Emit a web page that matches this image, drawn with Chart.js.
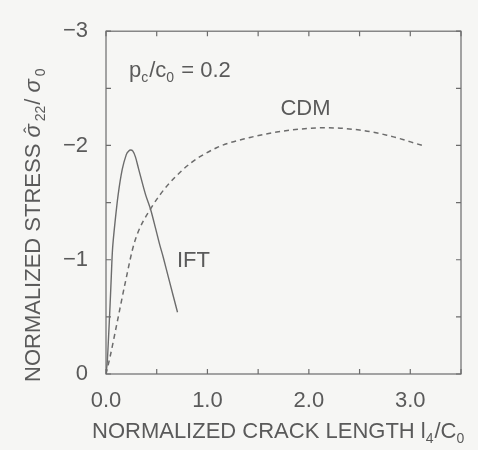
<!DOCTYPE html>
<html>
<head>
<script src="https://cdn.jsdelivr.net/npm/chart.js@4"></script>
<style>
body { margin: 0; background: #f6f6f4; }
</style>
</head>
<body>
<canvas id="chart" width="478" height="450"></canvas>
<script>
// IFT curve (solid)
const iftX = [0, 0.012, 0.025, 0.04, 0.052, 0.065, 0.088, 0.12, 0.16, 0.2, 0.222, 0.243, 0.265, 0.29, 0.32, 0.39, 0.44, 0.49, 0.53, 0.565, 0.62, 0.705];
const iftY = [0, -0.1, -0.32, -0.6, -0.85, -1.1, -1.32, -1.57, -1.79, -1.92, -1.95, -1.96, -1.95, -1.9, -1.8, -1.57, -1.44, -1.27, -1.13, -1.02, -0.83, -0.54];
// CDM curve (dashed)
const cdmX = [0, 0.04, 0.105, 0.19, 0.28, 0.45, 0.76, 1.09, 1.42, 1.74, 2.0, 2.17, 2.5, 2.77, 3.12];
const cdmY = [0, -0.15, -0.43, -0.8, -1.15, -1.46, -1.79, -1.98, -2.07, -2.125, -2.15, -2.155, -2.135, -2.09, -2.0];

const ink = '#5a5a5a';
const lineInk = '#6c6c6c';
const fam = '"Liberation Sans", Arial, sans-serif';

function rich(ctx, parts, x, y) {
    // parts: [text, kind]  kind: 0 normal, 1 subscript, 2 hatted sigma, 3 sigma
    parts.forEach(p => {
        if (p[1] === 1) {
            ctx.font = '14px ' + fam;
            ctx.fillText(p[0], x, y + 5);
            x += ctx.measureText(p[0]).width + 1;
        } else if (p[1] === 2) {
            ctx.font = 'italic 22px ' + fam;
            ctx.fillText(p[0], x, y);
            let w = ctx.measureText(p[0]).width;
            ctx.font = '18px ' + fam;
            ctx.textAlign = 'center';
            ctx.fillText('ˆ', x + w / 2 + 1, y - 3);
            ctx.textAlign = 'left';
            x += w + 3;
        } else if (p[1] === 3) {
            ctx.font = 'italic 22px ' + fam;
            ctx.fillText(p[0], x, y);
            x += ctx.measureText(p[0]).width + 3;
        } else {
            ctx.font = '22px ' + fam;
            ctx.fillText(p[0], x, y);
            x += ctx.measureText(p[0]).width;
        }
    });
}

const framePlugin = {
    id: 'frame',
    afterDraw(chart) {
        const ctx = chart.ctx;
        const a = chart.chartArea;
        const sx = chart.scales.x, sy = chart.scales.y;
        ctx.save();
        ctx.strokeStyle = lineInk;
        ctx.lineWidth = 1.2;
        ctx.strokeRect(a.left, a.top, a.right - a.left, a.bottom - a.top);
        ctx.beginPath();
        sx.ticks.forEach(t => {
            const p = sx.getPixelForValue(t.value);
            ctx.moveTo(p, a.bottom); ctx.lineTo(p, a.bottom - 5);
            ctx.moveTo(p, a.top); ctx.lineTo(p, a.top + 5);
        });
        sy.ticks.forEach(t => {
            const p = sy.getPixelForValue(t.value);
            ctx.moveTo(a.left, p); ctx.lineTo(a.left + 5, p);
            ctx.moveTo(a.right, p); ctx.lineTo(a.right - 5, p);
        });
        ctx.stroke();

        ctx.fillStyle = ink;
        ctx.textBaseline = 'alphabetic';
        ctx.textAlign = 'left';
        // annotations, placed in data coordinates
        rich(ctx, [['p', 0], ['c', 1], ['/c', 0], ['0', 1], [' = 0.2', 0]],
            sx.getPixelForValue(0.227), sy.getPixelForValue(-2.6));
        rich(ctx, [['CDM', 0]], sx.getPixelForValue(1.72), sy.getPixelForValue(-2.27));
        rich(ctx, [['IFT', 0]], sx.getPixelForValue(0.70), sy.getPixelForValue(-0.94));

        // axis titles
        rich(ctx, [['NORMALIZED CRACK LENGTH l', 0], ['4', 1], ['/C', 0], ['0', 1]], 92, 438);
        ctx.translate(40, 382);
        ctx.rotate(-Math.PI / 2);
        rich(ctx, [['NORMALIZED STRESS ', 0], ['σ', 2], ['22', 1], ['/ ', 0], ['σ', 3], ['0', 1]], 0, 0);
        ctx.restore();
    }
};

new Chart(document.getElementById('chart'), {
    type: 'scatter',
    data: {
        datasets: [{
            label: 'IFT',
            data: iftX.map((x, i) => ({ x: x, y: iftY[i] })),
            showLine: true,
            borderColor: lineInk,
            borderWidth: 1.4,
            pointRadius: 0,
            tension: 0.3
        }, {
            label: 'CDM',
            data: cdmX.map((x, i) => ({ x: x, y: cdmY[i] })),
            showLine: true,
            borderColor: lineInk,
            borderWidth: 1.5,
            borderDash: [5, 4],
            pointRadius: 0,
            cubicInterpolationMode: 'monotone'
        }]
    },
    options: {
        responsive: false,
        animation: false,
        layout: { padding: { left: 0, right: 17, top: 16, bottom: 0 } },
        plugins: { legend: { display: false }, tooltip: { enabled: false } },
        scales: {
            x: {
                type: 'linear', min: 0, max: 3.5,
                grid: { display: false, drawTicks: false },
                border: { display: false },
                ticks: {
                    stepSize: 0.5, autoSkip: false, maxRotation: 0, padding: 14,
                    color: ink, font: { family: fam, size: 22 },
                    callback: v => Number.isInteger(v) ? v.toFixed(1) : ''
                },
                afterFit: s => { s.height = 76; }
            },
            y: {
                type: 'linear', min: -3, max: 0, reverse: true,
                grid: { display: false, drawTicks: false },
                border: { display: false },
                ticks: {
                    stepSize: 0.5, autoSkip: false, padding: 18,
                    color: ink, font: { family: fam, size: 22 },
                    callback: v => Number.isInteger(v) ? (v === 0 ? '0' : '−' + Math.abs(v)) : ''
                },
                afterFit: s => { s.width = 106; }
            }
        }
    },
    plugins: [framePlugin]
});
</script>
</body>
</html>
